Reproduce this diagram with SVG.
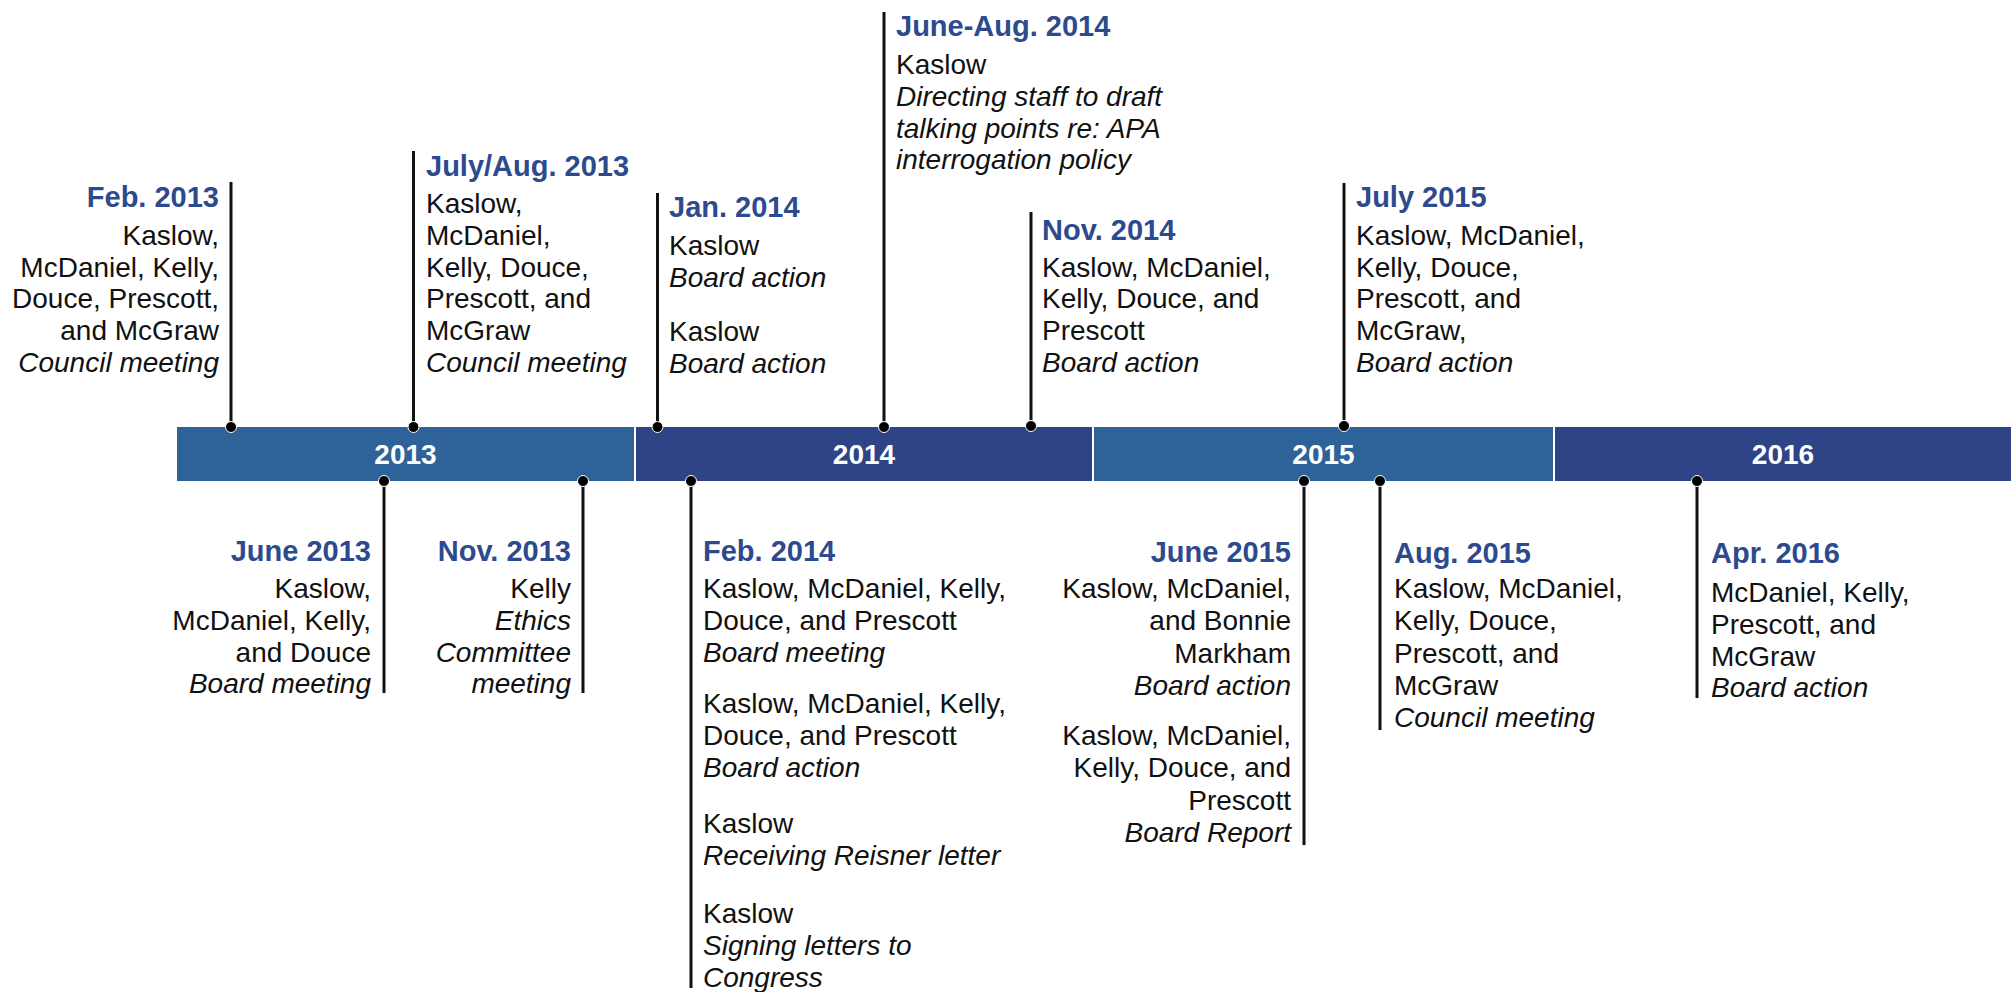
<svg xmlns="http://www.w3.org/2000/svg" width="2013" height="992" viewBox="0 0 2013 992">
<style>
text{font-family:"Liberation Sans",Arial,sans-serif;font-size:28px;fill:#111}
.h{font-weight:bold;font-size:29px;fill:#2E4A8E}
.i{font-style:italic}
.y{font-weight:bold;font-size:28px;fill:#fff;text-anchor:middle}
.e{text-anchor:end}
.ln{stroke:#111;stroke-width:3;fill:none}
.dot{fill:#000;stroke:#fff;stroke-width:1}
.lt{fill:#2D6399}
.dk{fill:#2E4486}
</style>
<rect width="2013" height="992" fill="#fff"/>
<g id="timeline-bar">
<rect class="lt" x="177" y="427" width="457" height="54"/>
<rect class="dk" x="636" y="427" width="456" height="54"/>
<rect class="lt" x="1094" y="427" width="459" height="54"/>
<rect class="dk" x="1555" y="427" width="456" height="54"/>
<text class="y" x="405.5" y="464">2013</text>
<text class="y" x="864" y="464">2014</text>
<text class="y" x="1323.5" y="464">2015</text>
<text class="y" x="1783" y="464">2016</text>
</g>
<g id="connectors">
<line class="ln" x1="231" y1="182" x2="231" y2="427"/>
<line class="ln" x1="413.5" y1="151" x2="413.5" y2="427"/>
<line class="ln" x1="657.5" y1="193" x2="657.5" y2="427"/>
<line class="ln" x1="884" y1="12" x2="884" y2="427"/>
<line class="ln" x1="1031" y1="212" x2="1031" y2="427"/>
<line class="ln" x1="1344" y1="183" x2="1344" y2="427"/>
<line class="ln" x1="384" y1="481" x2="384" y2="693"/>
<line class="ln" x1="583" y1="481" x2="583" y2="693"/>
<line class="ln" x1="691" y1="481" x2="691" y2="988"/>
<line class="ln" x1="1304" y1="481" x2="1304" y2="845"/>
<line class="ln" x1="1380" y1="481" x2="1380" y2="730"/>
<line class="ln" x1="1697" y1="481" x2="1697" y2="698"/>
<circle class="dot" cx="231" cy="427" r="5.5"/>
<circle class="dot" cx="413.5" cy="427" r="5.5"/>
<circle class="dot" cx="657.5" cy="427" r="5.5"/>
<circle class="dot" cx="884" cy="427" r="5.5"/>
<circle class="dot" cx="1031" cy="426" r="5.5"/>
<circle class="dot" cx="1344" cy="426" r="5.5"/>
<circle class="dot" cx="384" cy="481" r="5.5"/>
<circle class="dot" cx="583" cy="481" r="5.5"/>
<circle class="dot" cx="691" cy="481" r="5.5"/>
<circle class="dot" cx="1304" cy="481" r="5.5"/>
<circle class="dot" cx="1380" cy="481" r="5.5"/>
<circle class="dot" cx="1697" cy="481" r="5.5"/>
</g>
<g id="feb-2013">
<text class="h e" x="219" y="207">Feb. 2013</text>
<text class="e" x="219" y="245">Kaslow,</text>
<text class="e" x="219" y="277">McDaniel, Kelly,</text>
<text class="e" x="219" y="308">Douce, Prescott,</text>
<text class="e" x="219" y="340">and McGraw</text>
<text class="e i" x="219" y="372">Council meeting</text>
</g>
<g id="july-aug-2013">
<text class="h" x="426" y="176">July/Aug. 2013</text>
<text x="426" y="213">Kaslow,</text>
<text x="426" y="245">McDaniel,</text>
<text x="426" y="277">Kelly, Douce,</text>
<text x="426" y="308">Prescott, and</text>
<text x="426" y="340">McGraw</text>
<text class="i" x="426" y="372">Council meeting</text>
</g>
<g id="jan-2014">
<text class="h" x="669" y="217">Jan. 2014</text>
<text x="669" y="255">Kaslow</text>
<text class="i" x="669" y="287">Board action</text>
<text x="669" y="341">Kaslow</text>
<text class="i" x="669" y="373">Board action</text>
</g>
<g id="june-aug-2014">
<text class="h" x="896" y="36">June-Aug. 2014</text>
<text x="896" y="74">Kaslow</text>
<text class="i" x="896" y="106">Directing staff to draft</text>
<text class="i" x="896" y="138">talking points re: APA</text>
<text class="i" x="896" y="169">interrogation policy</text>
</g>
<g id="nov-2014">
<text class="h" x="1042" y="240">Nov. 2014</text>
<text x="1042" y="277">Kaslow, McDaniel,</text>
<text x="1042" y="308">Kelly, Douce, and</text>
<text x="1042" y="340">Prescott</text>
<text class="i" x="1042" y="372">Board action</text>
</g>
<g id="july-2015">
<text class="h" x="1356" y="207">July 2015</text>
<text x="1356" y="245">Kaslow, McDaniel,</text>
<text x="1356" y="277">Kelly, Douce,</text>
<text x="1356" y="308">Prescott, and</text>
<text x="1356" y="340">McGraw,</text>
<text class="i" x="1356" y="372">Board action</text>
</g>
<g id="june-2013">
<text class="h e" x="371" y="561">June 2013</text>
<text class="e" x="371" y="598">Kaslow,</text>
<text class="e" x="371" y="630">McDaniel, Kelly,</text>
<text class="e" x="371" y="662">and Douce</text>
<text class="e i" x="371" y="693">Board meeting</text>
</g>
<g id="nov-2013">
<text class="h e" x="571" y="561">Nov. 2013</text>
<text class="e" x="571" y="598">Kelly</text>
<text class="e i" x="571" y="630">Ethics</text>
<text class="e i" x="571" y="662">Committee</text>
<text class="e i" x="571" y="693">meeting</text>
</g>
<g id="feb-2014">
<text class="h" x="703" y="561">Feb. 2014</text>
<text x="703" y="598">Kaslow, McDaniel, Kelly,</text>
<text x="703" y="630">Douce, and Prescott</text>
<text class="i" x="703" y="662">Board meeting</text>
<text x="703" y="713">Kaslow, McDaniel, Kelly,</text>
<text x="703" y="745">Douce, and Prescott</text>
<text class="i" x="703" y="777">Board action</text>
<text x="703" y="833">Kaslow</text>
<text class="i" x="703" y="865">Receiving Reisner letter</text>
<text x="703" y="923">Kaslow</text>
<text class="i" x="703" y="955">Signing letters to</text>
<text class="i" x="703" y="987">Congress</text>
</g>
<g id="june-2015">
<text class="h e" x="1291" y="562">June 2015</text>
<text class="e" x="1291" y="598">Kaslow, McDaniel,</text>
<text class="e" x="1291" y="630">and Bonnie</text>
<text class="e" x="1291" y="663">Markham</text>
<text class="e i" x="1291" y="695">Board action</text>
<text class="e" x="1291" y="745">Kaslow, McDaniel,</text>
<text class="e" x="1291" y="777">Kelly, Douce, and</text>
<text class="e" x="1291" y="810">Prescott</text>
<text class="e i" x="1291" y="842">Board Report</text>
</g>
<g id="aug-2015">
<text class="h" x="1394" y="563">Aug. 2015</text>
<text x="1394" y="598">Kaslow, McDaniel,</text>
<text x="1394" y="630">Kelly, Douce,</text>
<text x="1394" y="663">Prescott, and</text>
<text x="1394" y="695">McGraw</text>
<text class="i" x="1394" y="727">Council meeting</text>
</g>
<g id="apr-2016">
<text class="h" x="1711" y="563">Apr. 2016</text>
<text x="1711" y="602">McDaniel, Kelly,</text>
<text x="1711" y="634">Prescott, and</text>
<text x="1711" y="666">McGraw</text>
<text class="i" x="1711" y="697">Board action</text>
</g>
</svg>
